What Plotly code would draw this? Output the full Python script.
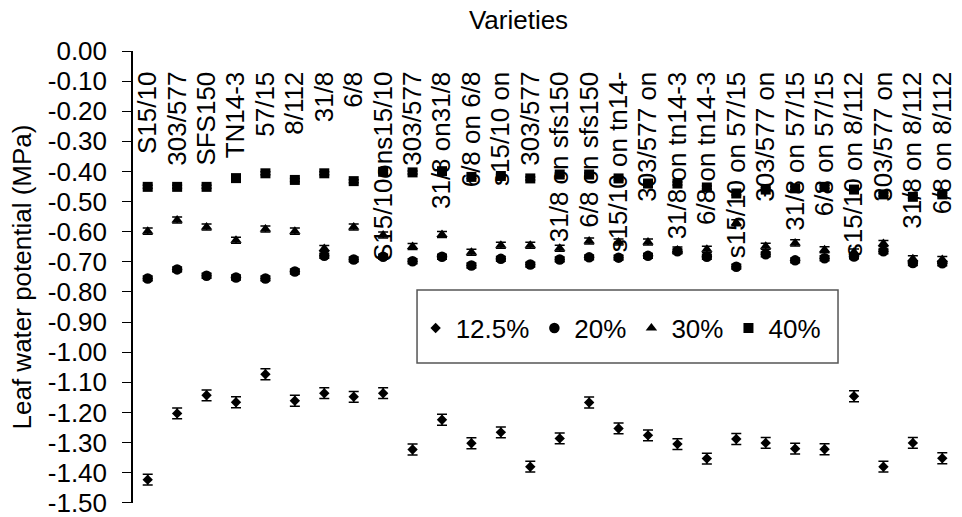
import plotly.graph_objects as go

# ---------------- data ----------------
varieties = ["S15/10", "303/577", "SFS150", "TN14-3", "57/15", "8/112", "31/8", "6/8",
             "S15/10ons15/10", "303/577", "31/8 on31/8", "6/8 on 6/8", "s15/10 on", "303/577",
             "31/8 on sfs150", "6/8 on sfs150", "s15/10 on tn14-", "303/577 on",
             "31/8 on tn14-3", "6/8 on tn14-3", "s15/10 on 57/15", "303/577 on",
             "31/8 on 57/15", "6/8 on 57/15", "s15/10 on 8/112", "303/577 on",
             "31/8 on 8/112", "6/8 on 8/112"]

lwp_12_5 = [-1.423, -1.203, -1.143, -1.166, -1.073, -1.161, -1.136, -1.148, -1.136, -1.323,
            -1.224, -1.302, -1.266, -1.380, -1.286, -1.167, -1.253, -1.276, -1.305, -1.353,
            -1.288, -1.301, -1.320, -1.322, -1.146, -1.380, -1.301, -1.352]
err_12_5 = [0.018, 0.018, 0.018, 0.018, 0.018, 0.018, 0.018, 0.018, 0.018, 0.018,
            0.018, 0.018, 0.018, 0.018, 0.018, 0.018, 0.018, 0.018, 0.018, 0.018,
            0.018, 0.018, 0.018, 0.018, 0.018, 0.018, 0.018, 0.018]

lwp_20 = [-0.755, -0.725, -0.746, -0.752, -0.755, -0.732, -0.680, -0.692, -0.683, -0.698,
          -0.683, -0.712, -0.690, -0.709, -0.692, -0.685, -0.686, -0.680, -0.665, -0.683,
          -0.716, -0.675, -0.695, -0.688, -0.682, -0.665, -0.704, -0.705]
err_20 = [0.008, 0.008, 0.008, 0.008, 0.008, 0.008, 0.008, 0.008, 0.008, 0.008,
          0.008, 0.008, 0.008, 0.008, 0.008, 0.008, 0.008, 0.008, 0.008, 0.008,
          0.008, 0.008, 0.008, 0.008, 0.008, 0.008, 0.008, 0.008]

lwp_30 = [-0.598, -0.561, -0.584, -0.628, -0.591, -0.598, -0.656, -0.584, -0.611, -0.649,
          -0.609, -0.668, -0.645, -0.645, -0.655, -0.631, -0.634, -0.634, -0.661, -0.658,
          -0.570, -0.648, -0.637, -0.660, -0.667, -0.639, -0.690, -0.692]
err_30 = [0.010, 0.010, 0.010, 0.010, 0.010, 0.010, 0.010, 0.010, 0.010, 0.010,
          0.010, 0.010, 0.010, 0.010, 0.010, 0.010, 0.010, 0.010, 0.010, 0.010,
          0.010, 0.010, 0.010, 0.010, 0.010, 0.010, 0.010, 0.010]

lwp_40 = [-0.451, -0.451, -0.451, -0.422, -0.406, -0.428, -0.406, -0.432, -0.401, -0.403,
          -0.399, -0.418, -0.415, -0.423, -0.410, -0.410, -0.423, -0.440, -0.440, -0.453,
          -0.473, -0.460, -0.456, -0.451, -0.460, -0.476, -0.484, -0.476]
err_40 = [0.005, 0.005, 0.005, 0.005, 0.005, 0.005, 0.005, 0.005, 0.005, 0.005,
          0.005, 0.005, 0.005, 0.005, 0.005, 0.005, 0.005, 0.005, 0.005, 0.005,
          0.005, 0.005, 0.005, 0.005, 0.005, 0.005, 0.005, 0.005]

series_names = ["12.5%", "20%", "30%", "40%"]
y_tick_values = [0.0, -0.1, -0.2, -0.3, -0.4, -0.5, -0.6, -0.7, -0.8, -0.9,
                 -1.0, -1.1, -1.2, -1.3, -1.4, -1.5]

# ---------------- figure ----------------
FONT = "Liberation Sans, Arial, sans-serif"
x_idx = list(range(len(varieties)))
x_range = [-0.5, len(varieties) - 0.5]

styles = [("diamond", 8), ("circle", 10.5), ("triangle-up", 10), ("square", 10)]
values = [lwp_12_5, lwp_20, lwp_30, lwp_40]
errors = [err_12_5, err_20, err_30, err_40]

fig = go.Figure()
for name, vals, errs, (sym, size) in zip(series_names, values, errors, styles):
    fig.add_trace(go.Scatter(
        x=x_idx, y=vals, mode="markers", name=name, xaxis="x2", yaxis="y",
        marker=dict(symbol=sym, size=size, color="black", line=dict(width=0)),
        error_y=dict(type="data", array=errs, color="black", thickness=1.5, width=5),
    ))

# category boundaries for tick marks
tick_pos = [i - 0.5 for i in range(len(varieties) + 1)]

fig.update_layout(
    xaxis=dict(
        range=x_range, side="top", anchor="y",
        tickmode="array", tickvals=tick_pos, showticklabels=False,
        ticks="inside", ticklen=6, tickcolor="#808080", tickwidth=1,
        showline=True, linecolor="#808080", linewidth=1.5,
        showgrid=False, zeroline=False,
    ),
    # label axis: variety names hanging down inside the plot
    xaxis2=dict(
        overlaying="x", anchor="free", position=0.968, side="bottom",
        range=x_range, tickmode="array", tickvals=x_idx, ticktext=varieties,
        ticks="", showline=False, showgrid=False, zeroline=False,
        tickangle=-90,
        tickfont=dict(family=FONT, size=26, color="black"),
    ),
)

y_tick_text = [("%.2f" % v) if v != 0 else "0.00" for v in y_tick_values]
fig.update_yaxes(
    range=[-1.5005, 0], tickmode="array", tickvals=y_tick_values, ticktext=y_tick_text,
    ticks="outside", ticklen=9, tickcolor="black", tickwidth=1,
    showline=True, linecolor="black", linewidth=1.5,
    showgrid=False, zeroline=False,
    ticklabelstandoff=10, ticklabeloverflow="allow",
    tickfont=dict(family=FONT, size=26, color="black"),
    title=dict(text="Leaf water potential (MPa)", font=dict(family=FONT, size=26, color="black"), standoff=9),
)

fig.add_shape(type="rect", xref="paper", yref="paper",
              x0=0.3447, x1=0.8556, y0=0.3097, y1=0.4712,
              line=dict(color="#555555", width=1.5), fillcolor="white", layer="below")

fig.update_layout(
    width=962, height=517,
    margin=dict(l=133, r=5, t=51, b=14, autoexpand=False),
    paper_bgcolor="white", plot_bgcolor="white",
    font=dict(family=FONT, size=26, color="black"),
    title=dict(text="Varieties", x=0.539, xanchor="center", y=0.961, yanchor="middle",
               font=dict(family=FONT, size=26, color="black")),
    legend=dict(orientation="h", x=0.343, y=0.387, xanchor="left", yanchor="middle",
                bgcolor="rgba(0,0,0,0)", borderwidth=0,
                font=dict(family=FONT, size=26, color="black")),
    showlegend=True,
)

fig.write_html("out.html")
